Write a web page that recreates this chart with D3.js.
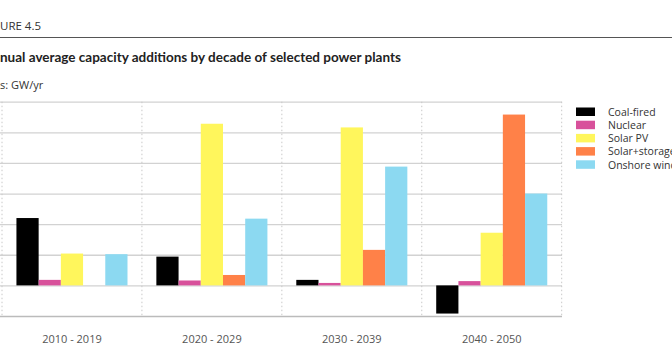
<!DOCTYPE html>
<html>
<head>
<meta charset="utf-8">
<script src="https://cdn.jsdelivr.net/npm/d3@7"></script>
<style>
  html, body { margin: 0; padding: 0; background: #fff; overflow: hidden; }
  svg { display: block; font-family: "Open Sans", "DejaVu Sans", sans-serif; }
</style>
</head>
<body>
<svg id="chart" width="672" height="353"></svg>
<script>
// ─── Data ───────────────────────────────────────────────────────────────────
const decades   = ['2010 - 2019', '2020 - 2029', '2030 - 2039', '2040 - 2050'];
const series    = ['Coal-fired', 'Nuclear', 'Solar PV', 'Solar+storage', 'Onshore wind'];
const colors    = ['#000000', '#d8519b', '#fff65c', '#ff8148', '#8cd9f1'];
const coal      = [110, 47, 9, -46];
const nuclear   = [9, 8, 4, 7];
const solarPV   = [52, 264, 258, 86];
const solarStor = [0, 17, 58, 279];
const onshore   = [51, 109, 194, 150];
const yTicks    = [-50, 0, 50, 100, 150, 200, 250, 300];

const values = [coal, nuclear, solarPV, solarStor, onshore];

const svg = d3.select('#chart');

// ─── Header ─────────────────────────────────────────────────────────────────
function cropLeft(sel, hidden) {
  // shift text left so the first characters fall outside the frame
  const w = sel.node().getSubStringLength(0, hidden);
  sel.attr('x', -w);
}

const fig = svg.append('text').attr('y', 30)
  .attr('font-size', 11.5).attr('fill', '#333').text('FIGURE 4.5');
cropLeft(fig, 3);

svg.append('line').attr('x1', 0).attr('x2', 672).attr('y1', 37.5).attr('y2', 37.5)
  .attr('stroke', '#555').attr('stroke-width', 1);

const title = svg.append('text').attr('y', 62)
  .attr('font-family', 'Lato, "Open Sans", sans-serif')
  .attr('font-size', 13.5).attr('font-weight', 700).attr('fill', '#222')
  .text('Annual average capacity additions by decade of selected power plants');
cropLeft(title, 2);

const units = svg.append('text').attr('y', 89)
  .attr('font-size', 11).attr('fill', '#333').text('Units:  GW/yr');
cropLeft(units, 4);

// ─── Scales ─────────────────────────────────────────────────────────────────
const x0 = d3.scaleBand().domain(decades).range([2, 561.7]);
const x1 = d3.scaleBand().domain(series).range([0, x0.bandwidth()]).paddingOuter(0.65);
const y  = d3.scaleLinear().domain([-50, 300]).range([316, 101.7]);

// gridlines
svg.append('g').selectAll('line').data(yTicks).enter().append('line')
  .attr('x1', 0).attr('x2', 562)
  .attr('y1', d => y(d) + 0.5).attr('y2', d => y(d) + 0.5)
  .attr('stroke', d => d === -50 ? '#bbb' : '#d2d2d2').attr('stroke-width', 1.3);

// dotted vertical separators
const seps = decades.map(d => x0(d)).concat([x0(decades[3]) + x0.bandwidth()]);
svg.append('g').selectAll('line').data(seps).enter().append('line')
  .attr('x1', d => d).attr('x2', d => d)
  .attr('y1', y(300)).attr('y2', y(-50))
  .attr('stroke', '#c8c8c8').attr('stroke-width', 1).attr('stroke-dasharray', '1.5,2.5');

// bars
const g = svg.append('g');
decades.forEach((dec, i) => {
  g.selectAll(null).data(series).enter().append('rect')
    .attr('x', s => x0(dec) + x1(s))
    .attr('width', x1.bandwidth())
    .attr('y', (s, j) => y(Math.max(0, values[j][i])))
    .attr('height', (s, j) => Math.abs(y(values[j][i]) - y(0)))
    .attr('fill', (s, j) => colors[j]);
});

// x axis labels
svg.append('g').selectAll('text').data(decades).enter().append('text')
  .attr('x', d => x0(d) + x0.bandwidth() / 2).attr('y', 343)
  .attr('text-anchor', 'middle').attr('font-size', 11).attr('fill', '#555')
  .text(d => d);

// legend
const leg = svg.append('g').attr('transform', 'translate(576,107.5)');
series.forEach((s, i) => {
  const row = leg.append('g').attr('transform', `translate(0,${i * 13.2})`);
  row.append('rect').attr('width', 19).attr('height', 8.5).attr('fill', colors[i]);
  row.append('text').attr('x', 32).attr('y', 8.3)
    .attr('font-size', 10.5).attr('fill', '#333').text(s);
});
</script>
</body>
</html>
